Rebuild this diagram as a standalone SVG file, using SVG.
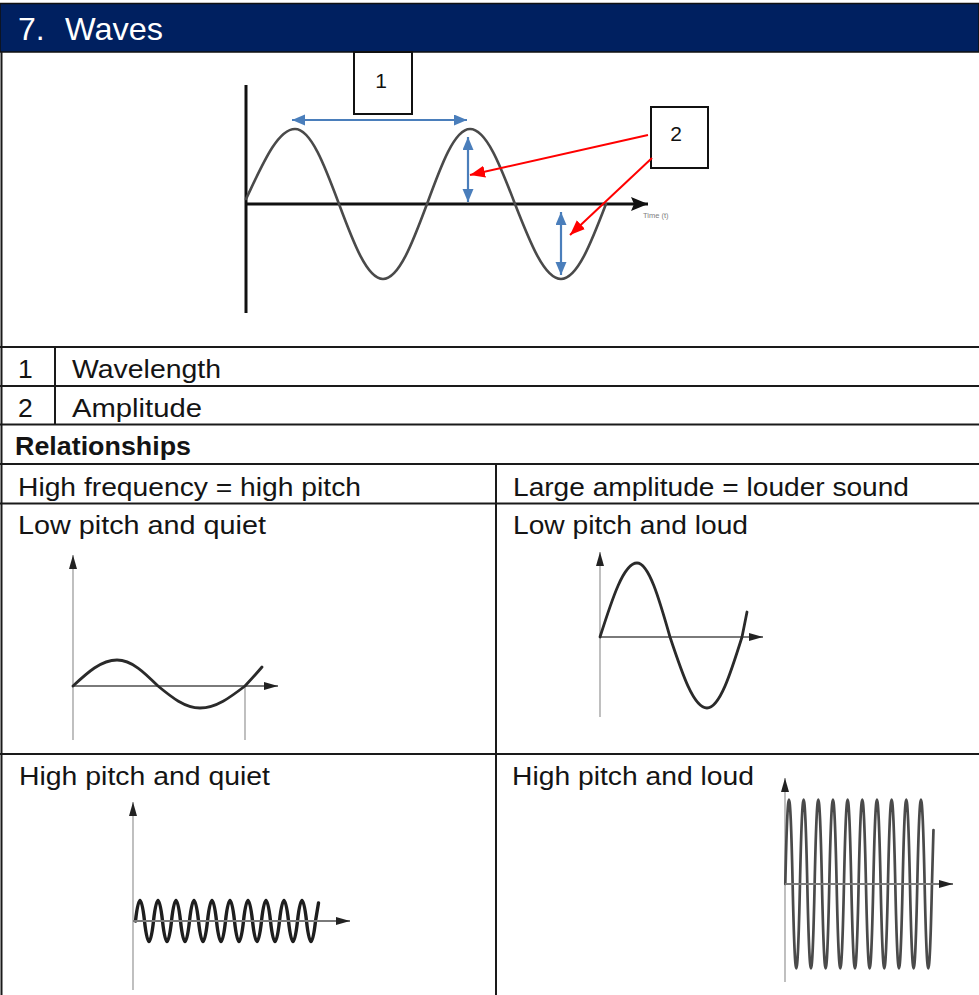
<svg xmlns="http://www.w3.org/2000/svg" width="979" height="995" viewBox="0 0 979 995">
  <style>
    .t { font-family: "Liberation Sans", Arial, sans-serif; font-size: 26.5px; fill: #141414; }
    .b { font-weight: bold; }
    .hd { font-family: "Liberation Sans", Arial, sans-serif; font-size: 32px; fill: #ffffff; }
    .lbl { font-family: "Liberation Sans", Arial, sans-serif; font-size: 21px; fill: #111; text-anchor: middle; }
    .grid { stroke: #1a1a1a; stroke-width: 2; fill: none; }
    .box { fill: #ffffff; stroke: #111; stroke-width: 2; }
    .wave { fill: none; stroke: #4a4a4a; stroke-width: 2.6; stroke-linecap: round; stroke-linejoin: round; }
    .swave { fill: none; stroke: #2a2a2a; stroke-width: 2.8; stroke-linecap: round; stroke-linejoin: round; }
    .axisV { stroke: #b0b0b0; stroke-width: 1.6; fill: none; }
    .axisH { stroke: #7a7a7a; stroke-width: 2; fill: none; }
    .blue { stroke: #4a7ebb; stroke-width: 2.2; fill: none; }
    .red { stroke: #ff0000; stroke-width: 2; fill: none; }
  </style>
  <defs>
    <marker id="hBlue" markerUnits="userSpaceOnUse" markerWidth="14" markerHeight="12" refX="13" refY="5.5" orient="auto-start-reverse">
      <path d="M0,0 L13,5.5 L0,11 z" fill="#4a7ebb"/>
    </marker>
    <marker id="hRed" markerUnits="userSpaceOnUse" markerWidth="16" markerHeight="13" refX="15" refY="6" orient="auto">
      <path d="M0,0 L15,6 L0,12 z" fill="#ff0000"/>
    </marker>
    <marker id="hBlack" markerUnits="userSpaceOnUse" markerWidth="18" markerHeight="15" refX="17" refY="7" orient="auto">
      <path d="M0,0 L17,7 L0,14 L3,7 z" fill="#111"/>
    </marker>
    <marker id="hSmall" markerUnits="userSpaceOnUse" markerWidth="15" markerHeight="9" refX="14" refY="4" orient="auto">
      <path d="M0,0 L14,4 L0,8 z" fill="#222"/>
    </marker>
  </defs>

  <rect width="979" height="995" fill="#ffffff"/>

  <!-- Header -->
  <g id="header">
    <rect x="0" y="3.5" width="979" height="48.5" fill="#002060" stroke="#111" stroke-width="1.5"/>
    <text class="hd" x="18" y="40">7.</text>
    <text class="hd" x="65" y="40" textLength="98" lengthAdjust="spacingAndGlyphs">Waves</text>
  </g>

  <!-- Table grid -->
  <g id="grid" class="grid">
    <line x1="1.5" y1="52" x2="1.5" y2="995"/>
    <line x1="0" y1="347" x2="979" y2="347"/>
    <line x1="0" y1="386" x2="979" y2="386"/>
    <line x1="0" y1="424.5" x2="979" y2="424.5"/>
    <line x1="0" y1="464" x2="979" y2="464"/>
    <line x1="0" y1="503.5" x2="979" y2="503.5"/>
    <line x1="0" y1="754" x2="979" y2="754"/>
    <line x1="55" y1="347" x2="55" y2="424.5"/>
    <line x1="496" y1="464" x2="496" y2="995"/>
  </g>

  <!-- Main wave diagram -->
  <g id="main-graph">
    <line x1="246" y1="85" x2="246" y2="313" stroke="#111" stroke-width="3"/>
    <line x1="246" y1="204" x2="648" y2="204" stroke="#111" stroke-width="3" marker-end="url(#hBlack)"/>
    <path class="wave" d="M246,199 C262,165.6 277.3,129 295,129 C310.9,129 324.7,165.6 339,204 C353.3,242.4 367.1,279 383,279 C398.9,279 412.7,242.4 427,204 C441,165.6 454.4,129 470,129 C486.3,129 500.3,165.6 515,204 C530,242.4 544.4,279 561,279 C577.3,279 591.3,242.4 606,204"/>
    <text x="643" y="218" font-family="Liberation Sans, Arial, sans-serif" font-size="7.5" fill="#808080">Time (t)</text>
  </g>

  <g id="box-1">
    <rect class="box" x="354" y="52" width="58" height="62"/>
    <text class="lbl" x="381" y="88">1</text>
  </g>
  <g id="box-2">
    <rect class="box" x="651" y="107" width="57" height="61"/>
    <text class="lbl" x="676" y="141">2</text>
  </g>

  <!-- Connectors -->
  <g id="connectors">
    <line class="blue" x1="292" y1="120" x2="467" y2="120" marker-start="url(#hBlue)" marker-end="url(#hBlue)"/>
    <line class="blue" x1="468" y1="137" x2="468" y2="202" marker-start="url(#hBlue)" marker-end="url(#hBlue)"/>
    <line class="blue" x1="561" y1="212" x2="561" y2="275" marker-start="url(#hBlue)" marker-end="url(#hBlue)"/>
    <line class="red" x1="648" y1="135" x2="470" y2="175" marker-end="url(#hRed)"/>
    <line class="red" x1="652" y1="158" x2="570" y2="235" marker-end="url(#hRed)"/>
  </g>

  <!-- Key rows -->
  <g id="row-1">
    <text class="t" x="18" y="378">1</text>
    <text class="t" x="72" y="378" textLength="149" lengthAdjust="spacingAndGlyphs">Wavelength</text>
  </g>
  <g id="row-2">
    <text class="t" x="18" y="417">2</text>
    <text class="t" x="72" y="417" textLength="130" lengthAdjust="spacingAndGlyphs">Amplitude</text>
  </g>
  <g id="row-relationships">
    <text class="t b" x="15" y="455" textLength="176" lengthAdjust="spacingAndGlyphs">Relationships</text>
  </g>
  <g id="cell-frequency">
    <text class="t" x="18" y="496" textLength="343" lengthAdjust="spacingAndGlyphs">High frequency = high pitch</text>
  </g>
  <g id="cell-amplitude">
    <text class="t" x="513" y="496" textLength="396" lengthAdjust="spacingAndGlyphs">Large amplitude = louder sound</text>
  </g>

  <!-- Low pitch and quiet -->
  <g id="cell-low-quiet">
    <text class="t" x="18" y="534" textLength="248" lengthAdjust="spacingAndGlyphs">Low pitch and quiet</text>
    <line class="axisV" x1="73" y1="740" x2="73" y2="555" marker-end="url(#hSmall)"/>
    <line class="axisH" x1="73" y1="686" x2="278" y2="686" marker-end="url(#hSmall)"/>
    <line class="axisV" x1="245" y1="686" x2="245" y2="740"/>
    <path class="swave" d="M73,686 C87.3,672.7 101.1,660 117,660 C131.8,660 144.6,672.7 158,686 C171.7,697.3 184.8,708 200,708 C216.3,708 230.3,697.3 245,686 C251,679.5 257,673 262,667"/>
  </g>

  <!-- Low pitch and loud -->
  <g id="cell-low-loud">
    <text class="t" x="513" y="534" textLength="235" lengthAdjust="spacingAndGlyphs">Low pitch and loud</text>
    <line class="axisV" x1="600" y1="717" x2="600" y2="552" marker-end="url(#hSmall)"/>
    <line class="axisH" x1="600" y1="637" x2="763" y2="637" marker-end="url(#hSmall)"/>
    <path class="swave" d="M600,637 C612.1,599.1 623.6,563 637,563 C648.9,563 659.2,599.1 670,637 C682.1,673.4 693.6,708 707,708 C719.7,708 730.6,673.4 742,637 L747,612"/>
  </g>

  <!-- High pitch and quiet -->
  <g id="cell-high-quiet">
    <text class="t" x="19" y="785" textLength="251" lengthAdjust="spacingAndGlyphs">High pitch and quiet</text>
    <line class="axisV" x1="133" y1="990" x2="133" y2="802" marker-end="url(#hSmall)"/>
    <path class="swave" style="stroke:#1e1e1e;stroke-width:3.4" d="M135.5,921 q4.5,-41 9,0 t9,0 t9,0 t9,0 t9,0 t9,0 t9,0 t9,0 t9,0 t9,0 t9,0 t9,0 t9,0 t9,0 t9,0 t9,0 t9,0 t9,0 t9,0 t9,0 l3,-18"/>
    <line class="axisH" x1="133" y1="921" x2="350" y2="921" stroke="#333" marker-end="url(#hSmall)"/>
  </g>

  <!-- High pitch and loud -->
  <g id="cell-high-loud">
    <text class="t" x="512" y="785" textLength="242" lengthAdjust="spacingAndGlyphs">High pitch and loud</text>
    <line class="axisV" x1="785" y1="982" x2="785" y2="778" marker-end="url(#hSmall)"/>
    <path class="swave" style="stroke:#4a4a4a;stroke-width:2.7" d="M785.3,884 q3.667,-169 7.333,0 t7.333,0 t7.333,0 t7.333,0 t7.333,0 t7.333,0 t7.333,0 t7.333,0 t7.333,0 t7.333,0 t7.333,0 t7.333,0 t7.333,0 t7.333,0 t7.333,0 t7.333,0 t7.333,0 t7.333,0 t7.333,0 t7.333,0 l1.5,-54"/>
    <line class="axisH" x1="785" y1="884" x2="953" y2="884" stroke="#333" marker-end="url(#hSmall)"/>
  </g>
</svg>
